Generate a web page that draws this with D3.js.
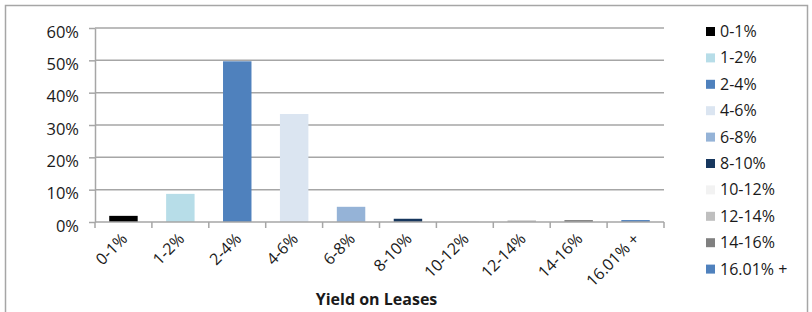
<!DOCTYPE html>
<html lang="en">
<head>
<meta charset="utf-8">
<title>Yield on Leases</title>
<script src="https://cdn.jsdelivr.net/npm/d3@7"></script>
<style>
body { margin: 0; background: #fff; }
text { font-family: "Open Sans", "Liberation Sans", sans-serif; fill: #1a1a1a; }
.grid line { stroke: #a6a6a6; stroke-width: 1.5; }
.axis path, .axis line { stroke: #a6a6a6; stroke-width: 1.5; }
</style>
</head>
<body>
<div id="chart"></div>
<script>
// data
var categories = ["0-1%", "1-2%", "2-4%", "4-6%", "6-8%", "8-10%", "10-12%", "12-14%", "14-16%", "16.01% +"];
var axisLabels = ["0-1%", "1-2%", "2-4%", "4-6%", "6-8%", "8-10%", "10-12%", "12-14%", "14-16%", "16.01% +"];
var values = [0.019, 0.087, 0.497, 0.334, 0.047, 0.010, 0.003, 0.005, 0.006, 0.006];
var colors = ["#000000", "#b7dde8", "#4f81bd", "#dbe5f1", "#95b3d7", "#17375e", "#f2f2f2", "#bfbfbf", "#808080", "#4f81bd"];
var yTicks = [0, 0.1, 0.2, 0.3, 0.4, 0.5, 0.6];

var W = 812, H = 312;
var margin = {top: 28, left: 95, right: 148, bottom: 90};

var svg = d3.select("#chart").append("svg")
    .attr("width", W)
    .attr("height", H);

// outer frame
svg.append("rect")
    .attr("x", 5.5).attr("y", 5.5)
    .attr("width", 802).attr("height", 320)
    .attr("fill", "#fff")
    .attr("stroke", "#a6a6a6")
    .attr("stroke-width", 1.5);

var width = W - margin.left - margin.right;
var height = 222 - margin.top;

var root = svg.append("g")
    .attr("transform", "translate(" + margin.left + "," + margin.top + ")");

var x = d3.scaleBand()
    .domain(categories)
    .range([0, width])
    .paddingInner(0.5)
    .paddingOuter(0.25);

var y = d3.scaleLinear()
    .domain([0, 0.6])
    .range([height, 0]);

root.append("g")
    .attr("class", "grid")
    .selectAll("line")
    .data(yTicks.slice(1))
    .enter().append("line")
        .attr("x1", 0).attr("x2", width)
        .attr("y1", function(d) { return y(d); })
        .attr("y2", function(d) { return y(d); });

var yAxis = root.append("g")
    .attr("class", "axis")
    .call(d3.axisLeft(y).tickValues(yTicks).tickFormat(d3.format(".0%")).tickSize(6).tickSizeOuter(0));
yAxis.selectAll("text")
    .attr("x", -16)
    .attr("dy", "0.55em")
    .style("font-size", "16.5px");

root.selectAll(".bar")
    .data(values)
    .enter().append("rect")
        .attr("class", "bar")
        .attr("x", function(d, i) { return x(categories[i]); })
        .attr("width", x.bandwidth())
        .attr("y", function(d) { return y(d); })
        .attr("height", function(d) { return height - y(d); })
        .attr("fill", function(d, i) { return colors[i]; });

// x axis with ticks between categories
var xAxis = root.append("g")
    .attr("class", "axis")
    .attr("transform", "translate(0," + height + ")");
xAxis.append("line")
    .attr("x1", 0).attr("x2", width);
var step = width / categories.length;
xAxis.selectAll(".tick")
    .data(d3.range(categories.length + 1))
    .enter().append("line")
        .attr("x1", function(d) { return d * step; })
        .attr("x2", function(d) { return d * step; })
        .attr("y1", 0).attr("y2", 6);

xAxis.selectAll(".lbl")
    .data(axisLabels)
    .enter().append("text")
        .attr("class", "lbl")
        .attr("text-anchor", "end")
        .style("font-size", "16px")
        .attr("transform", function(d, i) {
            var cx = x(categories[i]) + x.bandwidth() / 2 + 5;
            return "translate(" + cx + ",18) rotate(-45)";
        })
        .text(function(d) { return d; });

svg.append("text")
    .attr("x", margin.left + width / 2 - 3)
    .attr("y", 305)
    .attr("text-anchor", "middle")
    .style("font-size", "16px")
    .style("font-weight", "bold")
    .text("Yield on Leases");

// legend
var legend = svg.append("g")
    .attr("transform", "translate(706,27)");
var item = legend.selectAll(".item")
    .data(categories)
    .enter().append("g")
        .attr("class", "item")
        .attr("transform", function(d, i) { return "translate(0," + (i * 26.4) + ")"; });
item.append("rect")
    .attr("width", 9).attr("height", 9)
    .attr("fill", function(d, i) { return colors[i]; });
item.append("text")
    .attr("x", 14)
    .attr("y", 10)
    .style("font-size", "16px")
    .text(function(d) { return d; });
</script>
</body>
</html>
